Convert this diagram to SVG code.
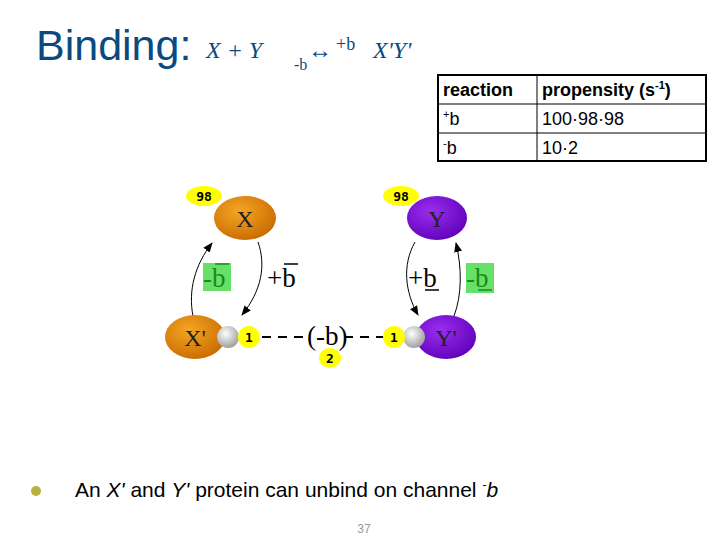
<svg xmlns="http://www.w3.org/2000/svg" width="720" height="540" viewBox="0 0 720 540">
<defs>
<radialGradient id="og" cx="0.4" cy="0.35" r="0.7"><stop offset="0" stop-color="#f5a623"/><stop offset="1" stop-color="#c86a00"/></radialGradient>
<radialGradient id="pg" cx="0.4" cy="0.35" r="0.7"><stop offset="0" stop-color="#9a2ef0"/><stop offset="1" stop-color="#6000b8"/></radialGradient>
<radialGradient id="gg" cx="0.4" cy="0.35" r="0.7"><stop offset="0" stop-color="#ffffff"/><stop offset="1" stop-color="#999"/></radialGradient>
<marker id="ah" markerWidth="10" markerHeight="8" refX="9" refY="4" orient="auto" markerUnits="userSpaceOnUse"><path d="M0,0 L10,4 L0,8 Z" fill="#000"/></marker>
</defs>
<style>
.s{font-family:"Liberation Serif",serif}
.a{font-family:"Liberation Sans",Arial,sans-serif}
.tag{fill:#ffff00}
.tn{font-family:"DejaVu Sans Mono",monospace;font-weight:bold;font-size:13px;text-anchor:middle}
.nl{font-family:"Liberation Serif",serif;font-size:24px;text-anchor:middle;fill:#222}
.lab{font-family:"Liberation Serif",serif;font-size:27px}
.cell{font-family:"Liberation Sans",Arial,sans-serif;font-size:18px}
</style>
<rect width="720" height="540" fill="#fff"/>
<text x="36" y="60" class="a" font-size="43" fill="#0a4a80">Binding:</text>
<text x="206" y="58" class="s" font-size="24" font-style="italic" fill="#0a4a80">X + Y</text>
<text x="294" y="70" class="s" font-size="16" fill="#0a4a80">-b</text>
<text x="308" y="58" class="s" font-size="24" fill="#0a4a80">↔</text>
<text x="336" y="50" class="s" font-size="18" fill="#0a4a80">+b</text>
<text x="373" y="58" class="s" font-size="24" font-style="italic" fill="#0a4a80">X'Y'</text>
<g id="table" fill="none" stroke="#000">
<rect x="438" y="75" width="268" height="86" stroke-width="2"/>
<line x1="537" y1="75" x2="537" y2="161"/>
<line x1="438" y1="104" x2="706" y2="104"/>
<line x1="438" y1="133" x2="706" y2="133"/>
</g>
<g class="cell">
<text x="443" y="96" font-weight="bold">reaction</text>
<text x="542" y="96" font-weight="bold">propensity (s<tspan font-size="11" dy="-7">-1</tspan><tspan dy="7">)</tspan></text>
<text x="443" y="125"><tspan font-size="11" dy="-7">+</tspan><tspan dy="7">b</tspan></text>
<text x="542" y="125">100·98·98</text>
<text x="443" y="154"><tspan font-size="11" dy="-7">-</tspan><tspan dy="7">b</tspan></text>
<text x="542" y="154">10·2</text>
</g>
<g id="connectors" fill="none" stroke="#000" stroke-width="1">
<path d="M193,316 C188,290 195,265 212,243" marker-end="url(#ah)"/>
<path d="M258,242 C266,265 262,290 242,315" marker-end="url(#ah)"/>
<path d="M415,242 C402,265 405,292 418,315" marker-end="url(#ah)"/>
<path d="M454,316 C462,295 462,268 456,243" marker-end="url(#ah)"/>
<path d="M262,337 H305" stroke-dasharray="9,7" stroke-width="2"/>
<path d="M344,337 H385" stroke-dasharray="9,7" stroke-width="2"/>
</g>
<g id="X"><ellipse cx="245" cy="218" rx="31" ry="22" fill="url(#og)"/><text x="245" y="227" class="nl">X</text></g>
<g id="Y"><ellipse cx="437" cy="218" rx="30" ry="22" fill="url(#pg)"/><text x="437" y="227" class="nl">Y</text></g>
<g id="Xp"><ellipse cx="195" cy="337" rx="30" ry="22" fill="url(#og)"/><text x="195" y="346" class="nl">X'</text><circle cx="228" cy="337" r="11" fill="url(#gg)"/></g>
<g id="Yp"><ellipse cx="446" cy="337" rx="30" ry="22" fill="url(#pg)"/><text x="446" y="346" class="nl">Y'</text><circle cx="414" cy="337" r="11" fill="url(#gg)"/></g>
<g id="tags">
<ellipse cx="204" cy="196" rx="18" ry="10" class="tag"/><text x="204" y="201" class="tn">98</text>
<ellipse cx="401" cy="196" rx="18" ry="10" class="tag"/><text x="401" y="201" class="tn">98</text>
<ellipse cx="249" cy="337" rx="11" ry="11" class="tag"/><text x="249" y="342" class="tn">1</text>
<ellipse cx="394" cy="337" rx="11" ry="11" class="tag"/><text x="394" y="342" class="tn">1</text>
<ellipse cx="330" cy="358" rx="11" ry="10" class="tag"/><text x="330" y="363" class="tn">2</text>
</g>
<g id="labels">
<rect x="203" y="263" width="28" height="28" fill="#66e066"/>
<text x="203" y="287" class="lab" fill="#1a8a1a">-b</text>
<line x1="215" y1="264" x2="229" y2="264" stroke="#1a8a1a" stroke-width="1.5"/>
<text x="267" y="287" class="lab">+b</text>
<line x1="284" y1="264" x2="298" y2="264" stroke="#000" stroke-width="1.5"/>
<text x="408" y="287" class="lab">+b</text>
<line x1="425" y1="290" x2="439" y2="290" stroke="#000" stroke-width="1.5"/>
<rect x="466" y="263" width="28" height="30" fill="#66e066"/>
<text x="466" y="287" class="lab" fill="#1a8a1a">-b</text>
<line x1="478" y1="290" x2="492" y2="290" stroke="#1a8a1a" stroke-width="1.5"/>
<text x="307" y="345" class="lab">(-b)</text>
</g>
<circle cx="36" cy="491" r="5" fill="#b8b040"/>
<text x="75" y="497" class="a" font-size="21">An <tspan font-style="italic">X'</tspan> and <tspan font-style="italic">Y'</tspan> protein can unbind on channel <tspan font-size="12" dy="-8">-</tspan><tspan dy="8" font-style="italic">b</tspan></text>
<text x="364" y="533" class="a" font-size="12" fill="#999" text-anchor="middle">37</text>
</svg>
